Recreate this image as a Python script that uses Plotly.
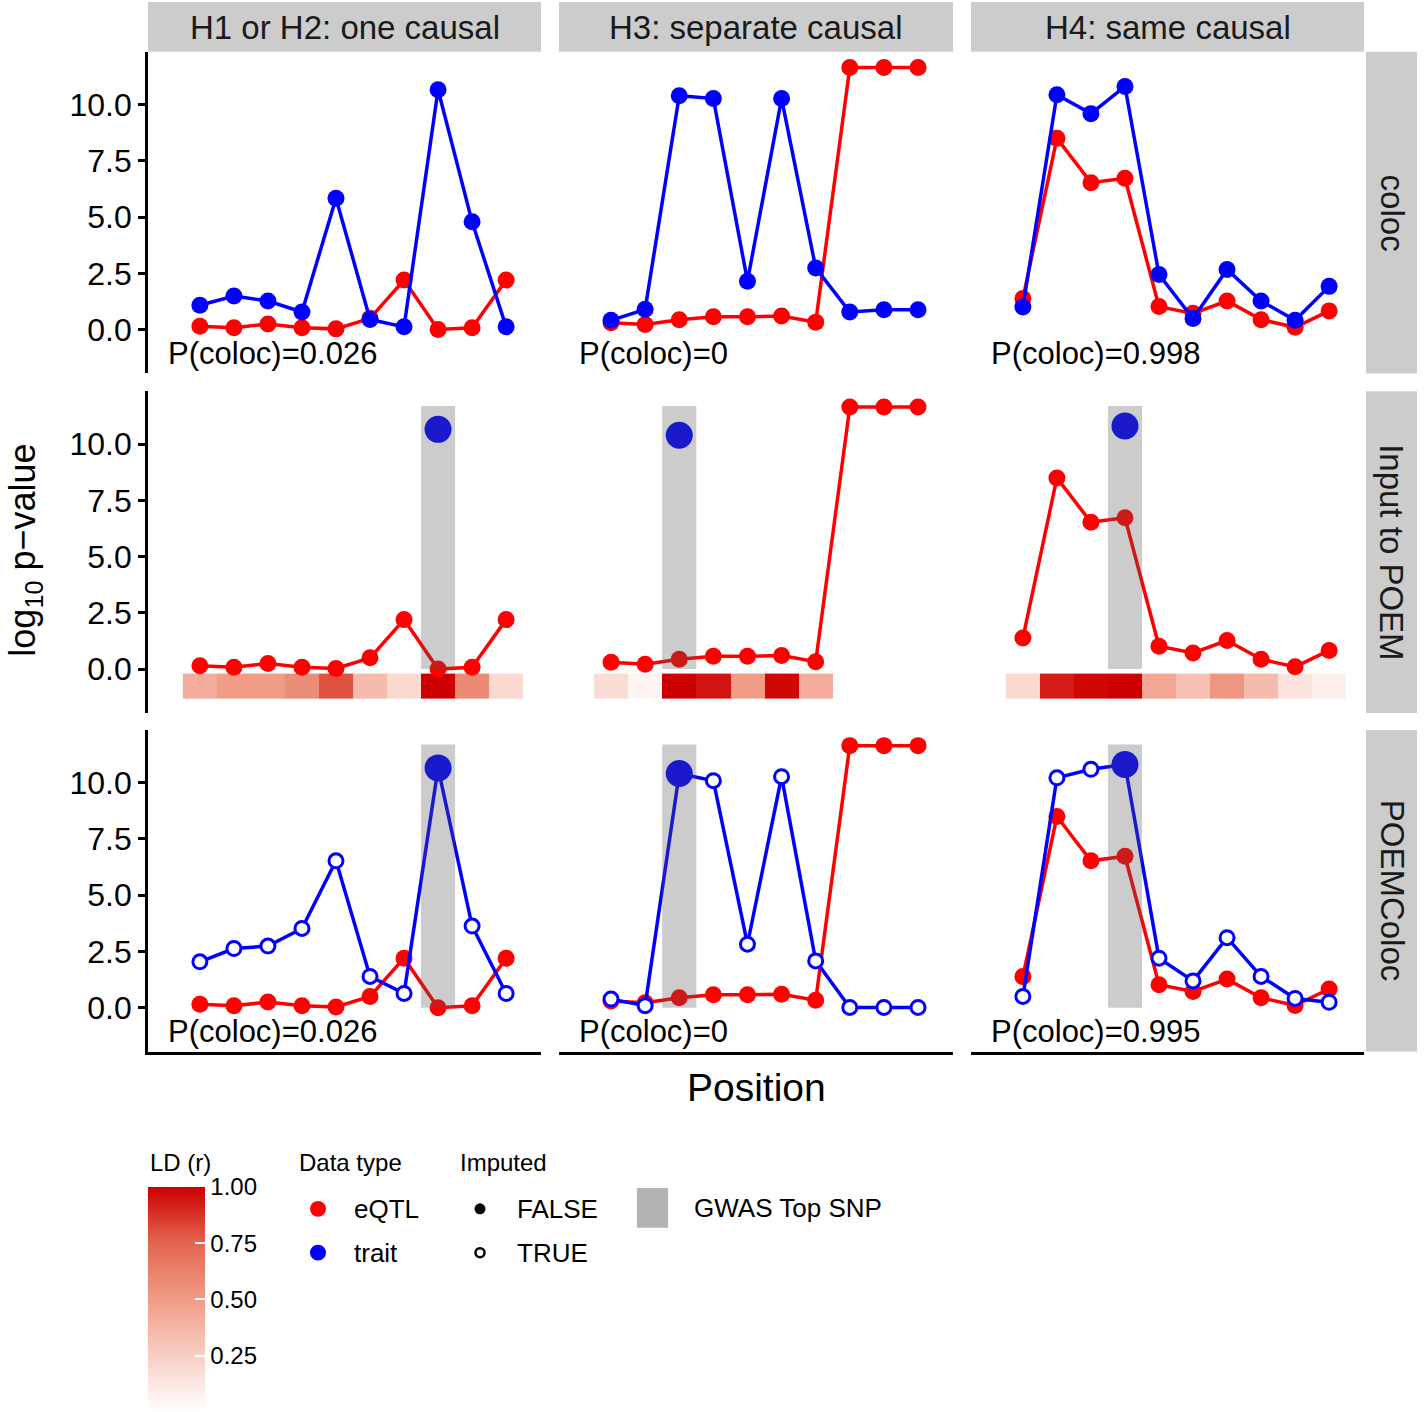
import plotly.graph_objects as go

# positions of the SNPs in each locus
pos = [1, 2, 3, 4, 5, 6, 7, 8, 9, 10]

scenarios = ["H1 or H2: one causal", "H3: separate causal", "H4: same causal"]
methods = ["coloc", "Input to POEM", "POEMColoc"]

# -log10 p-values, eQTL
eqtl_h12 = [0.15, 0.08, 0.25, 0.08, 0.03, 0.5, 2.2, 0.0, 0.08, 2.2]
eqtl_h3 = [0.3, 0.22, 0.44, 0.57, 0.57, 0.6, 0.33, 11.65, 11.65, 11.65]
eqtl_h4 = [1.38, 8.5, 6.53, 6.73, 1.02, 0.72, 1.27, 0.44, 0.1, 0.83]

# trait, full summary stats (coloc)
trait_h12 = [1.08, 1.49, 1.27, 0.78, 5.84, 0.45, 0.12, 10.66, 4.79, 0.12]
trait_h3 = [0.41, 0.9, 10.4, 10.27, 2.15, 10.27, 2.74, 0.78, 0.88, 0.88]
trait_h4 = [1.0, 10.44, 9.6, 10.81, 2.45, 0.49, 2.67, 1.27, 0.41, 1.92]

# trait, imputed from top SNP (POEMColoc)
imp_h12 = [2.04, 2.63, 2.74, 3.52, 6.53, 1.39, 0.63, 10.66, 3.63, 0.63]
imp_h3 = [0.38, 0.09, 10.41, 10.09, 2.82, 10.27, 2.08, 0.01, 0.01, 0.01]
imp_h4 = [0.5, 10.22, 10.6, 10.81, 2.2, 1.19, 3.11, 1.39, 0.41, 0.24]

top_snp = [8, 3, 4]

# LD (r) with the GWAS top SNP
ld_h12 = [0.42, 0.5, 0.5, 0.57, 0.8, 0.35, 0.2, 1.0, 0.58, 0.2]
ld_h3 = [0.18, 0.05, 1.0, 0.95, 0.5, 0.98, 0.42]
ld_h4 = [0.2, 0.93, 0.98, 1.0, 0.45, 0.32, 0.53, 0.35, 0.14, 0.08]

pcoloc_coloc = ["0.026", "0", "0.998"]
pcoloc_poem = ["0.026", "0", "0.995"]

eqtl = [eqtl_h12, eqtl_h3, eqtl_h4]
trait = [trait_h12, trait_h3, trait_h4]
imp = [imp_h12, imp_h3, imp_h4]
ld = [ld_h12, ld_h3, ld_h4]

W, H = 1424, 1412
FONT = "Liberation Sans, Arial, sans-serif"
RED, BLUE = "red", "blue"


def px(x):
    return x / W


def py(y):
    return 1 - y / H


col_px = [(148, 541), (559, 953), (971, 1364)]
row_px = [(52, 375), (393, 716), (733, 1056)]
xr = [-0.525, 11.025]
yr = [-1.95, 12.35]

fig = go.Figure()
layout = {}
shapes = []
annotations = []


def note(x, y, text, size, xanchor="center", angle=0, color="black"):
    annotations.append(dict(x=px(x), y=py(y), xref="paper", yref="paper", text=text,
                            showarrow=False, xanchor=xanchor, yanchor="middle", textangle=angle,
                            font=dict(size=size, color=color, family=FONT)))


for r in range(3):
    for c in range(3):
        k = r * 3 + c + 1
        xa = "x" if k == 1 else "x%d" % k
        ya = "y" if k == 1 else "y%d" % k
        layout["xaxis" if k == 1 else "xaxis%d" % k] = dict(
            domain=[px(col_px[c][0]), px(col_px[c][1])], range=xr, anchor=ya,
            showgrid=False, zeroline=False, showticklabels=False, ticks="",
            showline=(r == 2), linecolor="black", linewidth=2.6)
        layout["yaxis" if k == 1 else "yaxis%d" % k] = dict(
            domain=[py(row_px[r][1]), py(row_px[r][0])], range=yr, anchor=xa,
            showgrid=False, zeroline=False,
            showline=(c == 0), linecolor="black", linewidth=2.6,
            tickvals=[0, 2.5, 5, 7.5, 10] if c == 0 else [],
            ticktext=["0.0", "2.5", "5.0", "7.5", "10.0"] if c == 0 else [],
            ticks="outside" if c == 0 else "", ticklen=7, tickwidth=2.6, tickcolor="black",
            tickfont=dict(size=32, color="black", family=FONT))

        top = top_snp[c]
        ti = pos.index(top)

        if r == 1:
            n = len(ld[c])
            edges = [p - 0.5 for p in pos[:n]] + [pos[n - 1] + 0.5]
            fig.add_trace(go.Heatmap(x=edges, y=[-1.3, -0.2], z=[ld[c]], coloraxis="coloraxis",
                                     xaxis=xa, yaxis=ya, hoverinfo="skip"))

        # eQTL
        fig.add_trace(go.Scatter(x=pos, y=eqtl[c], mode="lines+markers", xaxis=xa, yaxis=ya,
                                 line=dict(color=RED, width=3.5),
                                 marker=dict(color=RED, size=17), showlegend=False))
        # trait
        if r == 0:
            fig.add_trace(go.Scatter(x=pos, y=trait[c], mode="lines+markers", xaxis=xa, yaxis=ya,
                                     line=dict(color=BLUE, width=3.5),
                                     marker=dict(color=BLUE, size=17), showlegend=False))
        elif r == 1:
            fig.add_trace(go.Scatter(x=[top], y=[trait[c][ti]], mode="markers", xaxis=xa, yaxis=ya,
                                     marker=dict(color=BLUE, size=27), showlegend=False))
        else:
            fig.add_trace(go.Scatter(x=pos, y=imp[c], mode="lines", xaxis=xa, yaxis=ya,
                                     line=dict(color=BLUE, width=3.5), showlegend=False))
            ix = [p for p in pos if p != top]
            iy = [v for p, v in zip(pos, imp[c]) if p != top]
            fig.add_trace(go.Scatter(x=ix, y=iy, mode="markers", xaxis=xa, yaxis=ya,
                                     marker=dict(color="white", size=14, symbol="circle",
                                                 line=dict(color=BLUE, width=3)),
                                     showlegend=False))
            fig.add_trace(go.Scatter(x=[top], y=[imp[c][ti]], mode="markers", xaxis=xa, yaxis=ya,
                                     marker=dict(color=BLUE, size=27), showlegend=False))

        # GWAS top SNP band
        if r > 0:
            shapes.append(dict(type="rect", xref=xa, yref=ya, x0=top - 0.5, x1=top + 0.5,
                               y0=0, y1=11.7, fillcolor="rgba(87,87,87,0.3)",
                               line=dict(width=0), layer="above"))
        if r != 1:
            txt = pcoloc_coloc[c] if r == 0 else pcoloc_poem[c]
            annotations.append(dict(x=0, y=-1.06, xref=xa, yref=ya, text="P(coloc)=" + txt,
                                    showarrow=False, xanchor="left", yanchor="middle",
                                    font=dict(size=31, color="black", family=FONT)))

# strips
for c in range(3):
    shapes.append(dict(type="rect", xref="paper", yref="paper", x0=px(col_px[c][0]), x1=px(col_px[c][1]),
                       y0=py(52), y1=py(2), fillcolor="#CCCCCC", line=dict(width=0)))
    note(sum(col_px[c]) / 2, 28, scenarios[c], 33, color="#1A1A1A")
for r in range(3):
    shapes.append(dict(type="rect", xref="paper", yref="paper", x0=px(1366), x1=px(1417),
                       y0=py(row_px[r][1]), y1=py(row_px[r][0]), fillcolor="#CCCCCC", line=dict(width=0)))
    note(1392, sum(row_px[r]) / 2, methods[r], 33, angle=90, color="#1A1A1A")

# axis titles
note(756, 1092, "Position", 39)
note(25, 553, "log<sub>10</sub> p\u2212value", 36, angle=-90)

# legends
note(148, 1167, "LD (r)", 24, xanchor="left")
note(297, 1167, "Data type", 24, xanchor="left")
note(458, 1167, "Imputed", 24, xanchor="left")
note(352, 1214, "eQTL", 26, xanchor="left")
note(352, 1258, "trait", 26, xanchor="left")
note(515, 1214, "FALSE", 26, xanchor="left")
note(515, 1258, "TRUE", 26, xanchor="left")
note(692, 1213, "GWAS Top SNP", 26, xanchor="left")


def circ(cx, cy, rad, fill, line_w=0, line_c=None):
    return dict(type="circle", xref="paper", yref="paper", x0=px(cx - rad), x1=px(cx + rad),
                y0=py(cy + rad), y1=py(cy - rad), fillcolor=fill,
                line=dict(width=line_w, color=line_c or fill))


shapes.append(circ(318, 1214, 8, RED))
shapes.append(circ(318, 1258, 8, BLUE))
shapes.append(circ(480, 1214, 5.5, "black"))
shapes.append(circ(480, 1258, 4.5, "white", 2.5, "black"))
shapes.append(dict(type="rect", xref="paper", yref="paper", x0=px(637), x1=px(668),
                   y0=py(1233), y1=py(1193), fillcolor="#B3B3B3", line=dict(width=0)))
# white tick marks on the left edge of the colour bar
for v in [0.25, 0.5, 0.75]:
    yy = 1192 + (1 - v) * 225
    shapes.append(dict(type="line", xref="paper", yref="paper", x0=px(148), x1=px(158),
                       y0=py(yy), y1=py(yy), line=dict(color="white", width=2)))

layout.update(
    width=W, height=H, margin=dict(l=0, r=0, t=0, b=0),
    paper_bgcolor="white", plot_bgcolor="white", showlegend=False,
    shapes=shapes, annotations=annotations,
    coloraxis=dict(
        cmin=0, cmax=1.0,
        colorscale=[[0, "#FFFFFF"], [0.25, "#F8CFC4"], [0.5, "#F09C87"], [0.75, "#E36650"], [1, "#CD0000"]],
        colorbar=dict(x=px(148), xanchor="left", y=py(1192), yanchor="top",
                      lenmode="pixels", len=225, thickness=57, thicknessmode="pixels",
                      xpad=0, ypad=0, outlinewidth=0,
                      tickvals=[0.25, 0.5, 0.75, 1.0], ticktext=["0.25", "0.50", "0.75", "1.00"],
                      ticks="inside", ticklen=10, tickwidth=2, tickcolor="white",
                      tickfont=dict(size=24, color="black", family=FONT))),
)
fig.update_layout(layout)
fig.write_html("out.html", config={"displayModeBar": False},
               post_script="document.body.style.margin='0';")
